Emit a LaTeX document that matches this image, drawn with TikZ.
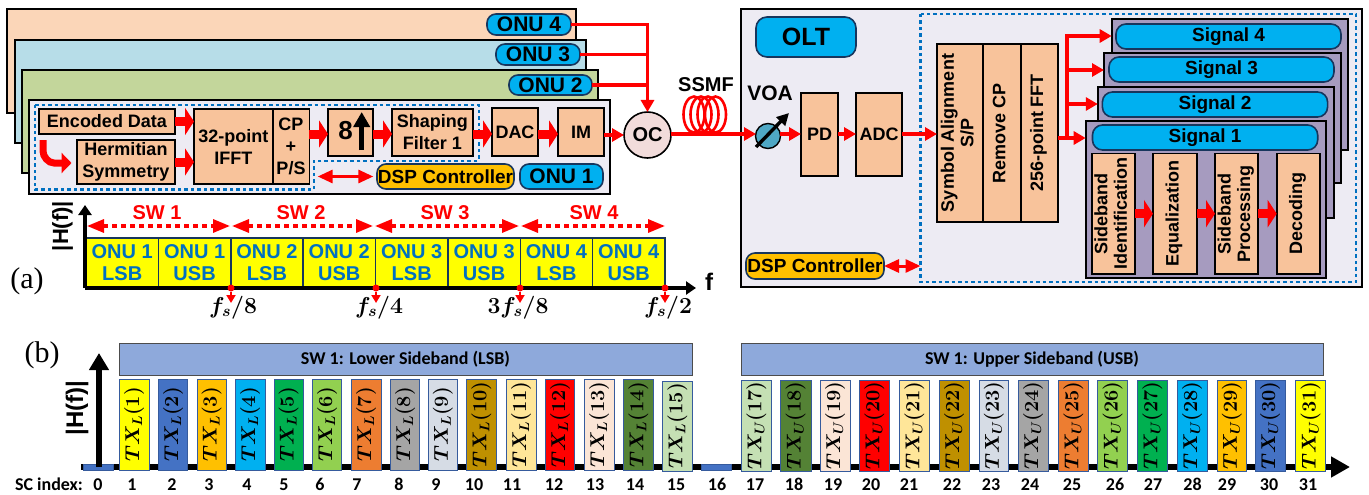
\documentclass[tikz,border=0pt]{standalone}
\usepackage{fontspec}
\usepackage{fix-cm}
\usepackage{graphicx}
\setmainfont{Liberation Sans}
\newfontfamily\calif{Carlito}
\newfontfamily\timesf{Liberation Serif}
\usetikzlibrary{arrows.meta,shapes.geometric}
\definecolor{bgl}{HTML}{EDEBF3}
\definecolor{peach}{HTML}{F8C39B}
\definecolor{lorange}{HTML}{FBD6B8}
\definecolor{lteal}{HTML}{B7DDE8}
\definecolor{lgreen}{HTML}{C3D69B}
\definecolor{skyb}{HTML}{00B0F0}
\definecolor{navyb}{HTML}{17365D}
\definecolor{gold}{HTML}{FFC000}
\definecolor{dashb}{HTML}{0070C0}
\definecolor{lilac}{HTML}{A69BBF}
\definecolor{banner}{HTML}{8EA9DB}
\definecolor{voac}{HTML}{4FA8C5}
\definecolor{occ}{HTML}{F2DCDB}
\definecolor{ca}{HTML}{FFFF00}\definecolor{cb}{HTML}{4472C4}\definecolor{cc}{HTML}{FFC000}
\definecolor{cd}{HTML}{00B0F0}\definecolor{ce}{HTML}{00B050}\definecolor{cf}{HTML}{92D050}
\definecolor{cg}{HTML}{ED7D31}\definecolor{ch}{HTML}{A5A5A5}\definecolor{ci}{HTML}{D6DCE5}
\definecolor{cj}{HTML}{BF9000}\definecolor{ck}{HTML}{FFE699}\definecolor{cl}{HTML}{FF0000}
\definecolor{cm}{HTML}{FBE5D6}\definecolor{cn}{HTML}{548235}\definecolor{co}{HTML}{C5E0B4}
\newcommand{\fsz}[1]{\fontsize{#1}{#1}\selectfont}
% \bx{style}{name}{x0}{y0}{x1}{y1}{text}
\newcommand{\bx}[7]{%
  \pgfmathsetmacro{\mycx}{(#3+#5)/2}\pgfmathsetmacro{\mycy}{(#4+#6)/2}%
  \pgfmathsetmacro{\myw}{#5-#3}\pgfmathsetmacro{\myh}{#6-#4}%
  \node[#1,minimum width=\myw pt,minimum height=\myh pt] (#2) at (\mycx,\mycy) {#7};}
\newcommand{\rot}[1]{\rotatebox{90}{\begin{tabular}{@{}c@{}}#1\end{tabular}}}
\tikzset{
  x=1pt,y=-1pt,
  base/.style={inner sep=0pt,outer sep=0pt,font=\bfseries,align=center},
  layer/.style={base,draw=black,line width=2pt},
  pblock/.style={base,draw=black,line width=1.6pt,fill=peach,font=\bfseries\fsz{18}},
  vblock/.style={base,draw=black,line width=1.6pt,fill=peach,font=\bfseries\fsz{18}},
  pill/.style={base,draw=navyb,line width=1.6pt,fill=skyb,rounded corners=9pt,font=\bfseries\fsz{21}},
  sigpill/.style={pill,rounded corners=10pt,font=\bfseries\fsz{19}},
  dsp/.style={base,draw=navyb,line width=1.6pt,fill=gold,rounded corners=9pt,font=\bfseries\fsz{19}},
  cell/.style={base,draw=navyb,line width=1.4pt,fill=ca,text=dashb,font=\bfseries\fsz{20}},
  bar/.style={base,draw=cb!80!black,line width=1pt,font=\boldmath\fsz{20}},
  banner/.style={base,draw=black!70,line width=1pt,fill=banner,font=\calif\bfseries\fsz{18}},
  fatarrow/.style={draw=red,line width=9pt,-{Triangle[length=9pt,width=27pt]}},
  redline/.style={draw=red,line width=3.6pt},
  redarrow/.style={redline,-{Triangle[length=12pt,width=13pt]}},
  reddouble/.style={draw=red,line width=3pt,{Triangle[length=15pt,width=13pt]}-{Triangle[length=15pt,width=13pt]}},
  swarrow/.style={draw=red,line width=3.2pt,dash pattern=on 5pt off 4pt,{Triangle[length=17pt,width=13pt]}-{Triangle[length=17pt,width=13pt]}},
  bluedash/.style={draw=dashb,line width=2.2pt,dash pattern=on 3.5pt off 3pt},
  axis/.style={draw=black,line width=3.4pt,-{Triangle[length=10pt,width=13pt]}},
  lbl/.style={inner sep=0pt,font=\bfseries\fsz{21}},
  idx/.style={inner sep=0pt,anchor=base,font=\calif\bfseries\fsz{18}},
  fslab/.style={inner sep=0pt,anchor=north,font=\boldmath\fsz{23}},
  dotn/.style={circle,fill=red,inner sep=0pt,minimum size=7pt},
}
\begin{document}
\begin{tikzpicture}
\useasboundingbox (0,0) rectangle (1369,495);
\fill[white] (0,0) rectangle (1369,495);
% ---------- ONU stack
\bx{layer,fill=lorange}{onuD}{7}{9.5}{576}{113}{}
\bx{layer,fill=lteal}{onuC}{15}{40}{586}{143}{}
\bx{layer,fill=lgreen}{onuB}{22}{70}{598}{173}{}
\bx{layer,fill=bgl}{onuA}{29}{100}{610}{194}{}
\bx{pill}{pD}{487}{14}{571}{35}{ONU 4}
\bx{pill}{pC}{496}{44}{580}{65}{ONU 3}
\bx{pill}{pB}{509}{75}{592}{95}{ONU 2}
\bx{pill}{pA}{520}{164}{603}{189}{ONU 1}
\draw[bluedash] (35,105) -- (478.6,105) -- (478.6,160.7) -- (314,160.7) -- (314,189.5) -- (35,189.5) -- cycle;
\bx{pblock}{enc}{39}{109}{175}{134}{Encoded Data}
\bx{pblock}{herm}{77}{140}{175}{184}{Hermitian\\[4pt]Symmetry}
\bx{pblock}{ifft}{194}{109}{272.7}{184}{32-point\\[4pt]IFFT}
\bx{pblock}{cp}{272.7}{109}{309.3}{184}{CP\\[4pt]+\\[4pt]P/S}
\bx{pblock}{ups}{328}{109}{373}{156}{}
\bx{pblock}{shape}{392}{109}{472.7}{156}{Shaping\\[4pt]Filter 1}
\bx{pblock}{dac}{492}{108}{538}{156}{DAC}
\bx{pblock}{im}{558}{108}{604}{156}{IM}
\bx{dsp}{dspa}{377}{164}{514}{189}{DSP Controller}
\node[inner sep=0pt,font=\bfseries\fsz{26}] (eight) at (345.7,131) {8};
\coordinate (upA) at (361.7,150);\coordinate (upB) at (361.7,112);
\draw[draw=black,line width=4.5pt,-{Triangle[length=15pt,width=16pt]}] (upA) -- (upB);
% ONU connectors
\node[ellipse,draw=black,line width=1.6pt,fill=occ,minimum width=47pt,minimum height=46pt,inner sep=0pt,outer sep=0pt,font=\bfseries\fsz{20}] (oc) at (647.5,135) {OC};
\draw[redline] (pC.east) -- (oc.north |- pC.east);
\draw[redline] (pB.east) -- (oc.north |- pB.east);
\draw[redarrow] (pD.east) -| (oc.north);
\draw[fatarrow] (enc.east) -- (ifft.west |- enc.east);
\draw[fatarrow] (herm.east) -- (ifft.west |- herm.east);
\coordinate (midy) at (0,134);
\draw[fatarrow] (cp.east |- midy) -- (ups.west |- midy);
\draw[fatarrow] (ups.east |- midy) -- (shape.west |- midy);
\draw[fatarrow] (shape.east |- midy) -- (dac.west |- midy);
\draw[fatarrow] (dac.east |- midy) -- (im.west |- midy);
\draw[redarrow] (im.east |- oc.west) -- (oc.west);
\coordinate (dl) at (317.7,176.5);
\draw[reddouble] (dl) -- (373.3,176.5);
\coordinate (cs) at (43,140);\coordinate (ce) at (71.5,163);
\draw[draw=red,line width=7pt,-{Triangle[length=10pt,width=20pt]}] (cs) -- (43,151) to[out=-90,in=180,looseness=0.9] (54,163) -- (ce);
% ---------- spectrum (a)
\foreach \i/\a/\b/\t in {1/86/158.4/ONU 1\\[2pt]LSB,2/158.4/230.8/ONU 1\\[2pt]USB,3/230.8/303.1/ONU 2\\[2pt]LSB,4/303.1/375.5/ONU 2\\[2pt]USB,5/375.5/447.9/ONU 3\\[2pt]LSB,6/447.9/520.3/ONU 3\\[2pt]USB,7/520.3/592.6/ONU 4\\[2pt]LSB,8/592.6/665/ONU 4\\[2pt]USB}{
  \bx{cell}{cell\i}{\a}{238}{\b}{288}{\t}
}
\coordinate (ao) at (85,288);
\draw[axis] (ao) -- (85,205) coordinate (ay);
\draw[axis] (ao) -- (696,288) coordinate (ax);
\node[lbl,rotate=90,font=\bfseries\fsz{22}] (hf) at (62.5,226) {|H(f)|};
\node[lbl,font=\bfseries\fsz{24}] (ff) at (709,282) {f};
\node[inner sep=0pt,font=\timesf\fsz{30}] (la) at (27,281) {(a)};
\foreach \i/\a/\b/\x in {1/87/230/157,2/232/373/301,3/375/519/445,4/521/665/594}{
  \draw[swarrow] (\a,226) coordinate (swl\i) -- (\b,226) coordinate (swr\i);
  \node[lbl,text=red,font=\bfseries\fsz{20}] (sw\i) at (\x,213) {SW \i};
}
\foreach \i/\x/\lx/\t in {1/231/233/{f_s/8},2/376/379/{f_s/4},3/520/518/{3f_s/8},4/665/668/{f_s/2}}{
  \node[dotn] (dot\i) at (\x,288) {};
  \coordinate (dote\i) at (\x,303);
  \draw[draw=red,line width=1.8pt,-{Triangle[length=8pt,width=9pt]}] (dot\i) -- (dote\i);
  \node[fslab] (fs\i) at (\lx,296) {$\t$};
}
% ---------- OLT
\bx{layer,fill=bgl}{olt}{741}{9}{1361.5}{287}{}
\draw[bluedash] (920.5,14) rectangle (1356,282);
\bx{pill,rounded corners=11pt,font=\bfseries\fsz{25}}{oltp}{756}{17}{856}{57}{OLT}
% ---------- fibre
\foreach \cx in {694,701,708,715.5}{\draw[red,line width=2.6pt] (\cx,114.5) ellipse [x radius=10.5pt,y radius=18pt];}
\node[lbl,font=\bfseries\fsz{20}] (ssmf) at (706,85) {SSMF};
\node[lbl] (voal) at (770,93) {VOA};
\node[circle,draw=black,line width=1.4pt,fill=voac,minimum size=25pt,inner sep=0pt] (voa) at (768,136) {};
\coordinate (vw) at (756,134);\coordinate (ve) at (780,134);
\coordinate (va) at (756,147);\coordinate (vb) at (789,113);
\bx{pblock}{pd}{801}{93}{838}{176}{PD}
\bx{pblock}{adc}{856}{93}{902}{176}{ADC}
\bx{vblock}{sym}{937}{44}{982.7}{222}{\rot{Symbol Alignment\\[1pt]S/P}}
\bx{vblock}{rcp}{982.7}{44}{1020.7}{222}{\rot{Remove CP}}
\bx{vblock}{fft}{1020.7}{44}{1057.7}{222}{\rot{256-point FFT}}
\bx{dsp}{dspb}{746}{253}{884}{279}{DSP Controller}
\draw[redarrow] (oc.east |- vw) -- (vw);
\draw[black,line width=3.4pt,-{Triangle[length=12pt,width=12pt]}] (va) -- (vb);
\draw[redarrow] (ve) -- (pd.west |- ve);
\draw[redarrow] (pd.east |- ve) -- (adc.west |- ve);
\draw[redarrow] (adc.east |- ve) -- (sym.west |- ve);
\coordinate (dsr) at (920.5,266);
\draw[reddouble] (dspb.east |- dsr) -- (dsr);
% signal stacks
\bx{layer,fill=lilac}{sD}{1111.7}{19}{1348}{150}{}
\bx{sigpill}{pillD}{1116}{24}{1341}{49}{Signal 4}
\bx{layer,fill=lilac}{sC}{1104}{53}{1341}{183}{}
\bx{sigpill}{pillC}{1109}{57}{1334}{82}{Signal 3}
\bx{layer,fill=lilac}{sB}{1097.8}{87}{1334}{218}{}
\bx{sigpill}{pillB}{1102.4}{92}{1327.6}{117}{Signal 2}
\bx{layer,fill=lilac}{sA}{1085.7}{121}{1326}{278}{}
\bx{sigpill}{pillA}{1092.5}{125}{1317.7}{150}{Signal 1}
\bx{vblock}{sid}{1091.7}{153.3}{1135}{274}{\rot{Sideband\\[1pt]Identification}}
\bx{vblock}{equ}{1153}{153.3}{1196.7}{274}{\rot{Equalization}}
\bx{vblock}{spr}{1215}{153.3}{1258}{274}{\rot{Sideband\\[1pt]Processing}}
\bx{vblock}{dec}{1276.7}{153.3}{1320}{274}{\rot{Decoding}}
\coordinate (fy) at (0,213.7);
\draw[fatarrow] (sid.east |- fy) -- (equ.west |- fy);
\draw[fatarrow] (equ.east |- fy) -- (spr.west |- fy);
\draw[fatarrow] (spr.east |- fy) -- (dec.west |- fy);
\coordinate (tj) at (1066.7,138);
\coordinate (t4) at (1111.7,36);\coordinate (t3) at (1104,70);\coordinate (t2) at (1097.8,104);
\draw[redarrow] (fft.east |- tj) -- (sA.west |- tj);
\draw[redarrow] (tj) |- (t4);
\draw[redarrow] (tj |- t3) -- (t3);
\draw[redarrow] (tj |- t2) -- (t2);
% ---------- part (b)
\node[inner sep=0pt,font=\timesf\fsz{30}] (lb) at (42,355) {(b)};
\bx{banner}{lsb}{119}{343}{692}{375}{SW 1: Lower Sideband (LSB)}
\bx{banner}{usb}{741}{343}{1323}{375}{SW 1: Upper Sideband (USB)}
\coordinate (bl) at (81,467);\coordinate (br) at (1350,467);
\draw[draw=black,line width=6pt,-{Triangle[length=19pt,width=20pt]}] (bl) -- (br);
\bx{base,fill=cb,draw=cb!80!black,line width=1pt}{sc0}{83.5}{464}{113}{470}{}
\bx{base,fill=cb,draw=cb!80!black,line width=1pt}{sc16}{701.4}{464}{731}{470}{}
\coordinate (vb0) at (99,467);\coordinate (vb1) at (99,353);
\draw[draw=black,line width=6pt,-{Triangle[length=17pt,width=19pt]}] (vb0) -- (vb1);
\node[lbl,rotate=90,font=\bfseries\fsz{24}] (hfb) at (77,408) {|H(f)|};
\foreach \i/\a/\b/\c/\t/\u in {1/119/149/ca/379/470,2/158.5/187.5/cb/379/470,3/197/226/cc/379/470,4/235/265/cd/379/470,5/274/303/ce/379/470,6/312.5/341.5/cf/379/470,7/351/381/cg/379/470,8/390.6/419.6/ch/379/470,9/428/457.6/ci/379/470,10/466.5/496.4/cj/379/470,11/506/536/ck/379/470,12/545.5/574.5/cl/379/470,13/584/614/cm/379/470,14/623.7/653/cn/379/470,15/662.5/692/co/381/471}{
  \bx{bar,fill=\c}{bar\i}{\a}{\t}{\b}{\u}{\rotatebox{90}{$TX_L(\i)$}}
}
\foreach \i/\a/\b/\c in {17/741/771.5/co,18/780/811/cn,19/820/850/cm,20/859.5/889/cl,21/899.6/929/ck,22/939/969/cj,23/979/1008.6/ci,24/1018/1048/ch,25/1058.6/1088/cg,26/1097.4/1127.8/cf,27/1137.6/1167/ce,28/1177/1207/cd,29/1217/1246.5/cc,30/1255/1285/cb,31/1295.6/1325.5/ca}{
  \bx{bar,fill=\c}{bar\i}{\a}{380}{\b}{471}{\rotatebox{90}{$TX_U(\i)$}}
}
\node[idx] (scidx) at (49,490) {SC index:};
\foreach \i/\x in {0/98,1/132,2/172,3/209,4/247,5/284,6/320,7/357,8/399,9/436,10/474,11/512,12/554,13/595,14/635,15/676,16/717,17/755,18/794,19/833,20/871,21/909,22/952,23/991,24/1030,25/1072,26/1115,27/1153,28/1192.5,29/1227,30/1269,31/1308}{
  \node[idx] (n\i) at (\x,490) {\i};
}
\end{tikzpicture}
\end{document}
